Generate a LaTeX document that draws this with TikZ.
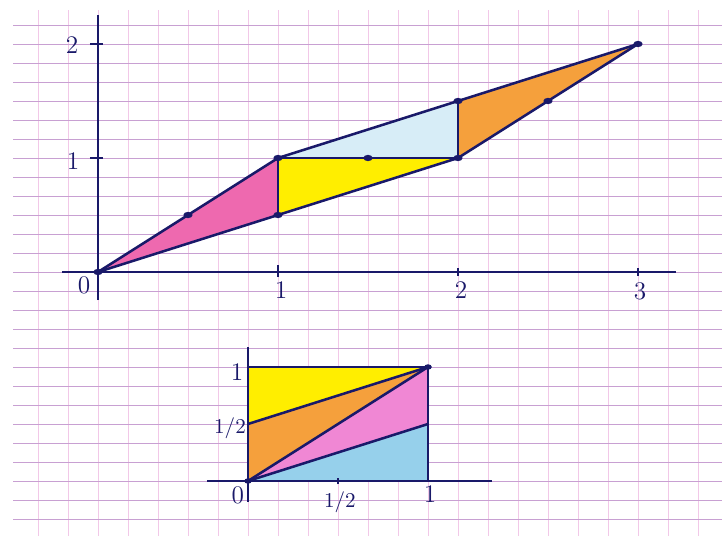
\documentclass[tikz,border=0pt]{standalone}
\usepackage{amsmath, amssymb}
\usepackage{tikz}

\definecolor{ink}{RGB}{25,25,105}
\definecolor{gridh}{RGB}{200,160,210}
\definecolor{gridv}{RGB}{242,200,232}
\definecolor{pinkfill}{RGB}{238,105,175}
\definecolor{yellowfill}{RGB}{255,238,0}
\definecolor{orangefill}{RGB}{245,160,60}
\definecolor{bluefill}{RGB}{215,237,247}
\definecolor{skyfill}{RGB}{150,208,235}
\definecolor{violetfill}{RGB}{240,135,212}

\tikzset{
  axis/.style={ink, line width=1.4pt},
  edge/.style={ink, line width=1.2pt, line join=round},
  tick/.style={ink, line width=1.1pt},
  dot/.style={ink},
  lab/.style={text=ink, font=\large, inner sep=1pt}
}

\begin{document}
\begin{tikzpicture}[x=3cm, y=1.9cm]
    \useasboundingbox (-0.5444,-2.316) rectangle (3.4667,2.386);
    \fill[white] (-0.5444,-2.316) rectangle (3.4667,2.386);

    % ---------- squared paper ----------
    \foreach \k in {-2,...,20}
      \draw[gridv, line width=0.45pt] (\k/6,2.298) -- (\k/6,-2.316);
    \foreach \k in {-13,...,13}
      \draw[gridh, line width=0.45pt] (-0.472,\k/6) -- (3.4667,\k/6);

    % ---------- Top figure: sheared strip ----------
    \coordinate (O) at (0,0);
    \coordinate (P) at (1,0.5);
    \coordinate (Q) at (1,1);
    \coordinate (R) at (2,1);
    \coordinate (S) at (2,1.5);
    \coordinate (T) at (3,2);

    % coloured triangles
    \fill[pinkfill] (O) -- (Q) -- (P) -- cycle;
    \fill[yellowfill] (Q) -- (R) -- (P) -- cycle;
    \fill[bluefill] (Q) -- (S) -- (R) -- cycle;
    \fill[orangefill] (R) -- (S) -- (T) -- cycle;

    % axes
    \draw[axis] (0,-0.246) -- (0,2.254);
    \draw[axis] (-0.2,0) -- (3.21,0);
    \draw[tick] (-0.045,1) -- (0.03,1);
    \draw[tick] (-0.045,2) -- (0.03,2);
    \draw[tick] (1,-0.04) -- (1,0.06);
    \draw[tick] (2,-0.035) -- (2,0.035);
    \draw[tick] (3,-0.035) -- (3,0.035);

    % edges
    \draw[edge] (O) -- (Q) -- (S) -- (T);
    \draw[edge] (O) -- (P) -- (R) -- (T);
    \draw[edge] (P) -- (Q) -- (R) -- (S);

    % marked points
    \foreach \p in {(O), (0.5,0.5), (P), (Q), (1.5,1), (R), (S), (2.5,1.5), (T)}
      \fill[dot] \p ellipse (2.2pt and 1.5pt);

    % labels
    \node[lab] (ytwo) at (-0.144,1.99) {2};
    \node[lab] (yone) at (-0.139,0.974) {1};
    \node[lab] (xzero) at (-0.078,-0.114) {0};
    \node[lab] (xone) at (1.017,-0.158) {1};
    \node[lab] (xtwo) at (2.017,-0.158) {2};
    \node[lab] (xthree) at (3.011,-0.167) {3};

    % ---------- Bottom figure: unit square ----------
    \begin{scope}[shift={(5/6,-11/6)}]
      \coordinate (o) at (0,0);
      \coordinate (h) at (0,0.5);
      \coordinate (t) at (0,1);
      \coordinate (c) at (1,1);
      \coordinate (m) at (1,0.5);
      \coordinate (b) at (1,0);

      \fill[yellowfill] (h) -- (t) -- (c) -- cycle;
      \fill[orangefill] (o) -- (h) -- (c) -- cycle;
      \fill[violetfill] (o) -- (c) -- (m) -- cycle;
      \fill[skyfill] (o) -- (m) -- (b) -- cycle;

      \draw[axis] (0,-0.184) -- (0,1.175);
      \draw[axis] (-0.228,0) -- (1.356,0);
      \draw[tick] (0.5,-0.03) -- (0.5,0.03);

      \draw[edge] (t) -- (c) -- (b);
      \draw[edge] (h) -- (c);
      \draw[edge] (o) -- (c);
      \draw[edge] (o) -- (m);
      \fill[dot] (c) ellipse (1.8pt and 1.3pt);
      \fill[dot] (o) ellipse (1.8pt and 1.3pt);

      \node[lab] (bzero) at (-0.056,-0.123) {0};
      \node[lab, font=\normalsize] (bhalfx) at (0.511,-0.19) {1/2};
      \node[lab] (bonex) at (1.011,-0.114) {1};
      \node[lab] (boney) at (-0.061,0.956) {1};
      \node[lab, font=\normalsize] (bhalfy) at (-0.1,0.465) {1/2};
    \end{scope}
  \end{tikzpicture}
\end{document}
